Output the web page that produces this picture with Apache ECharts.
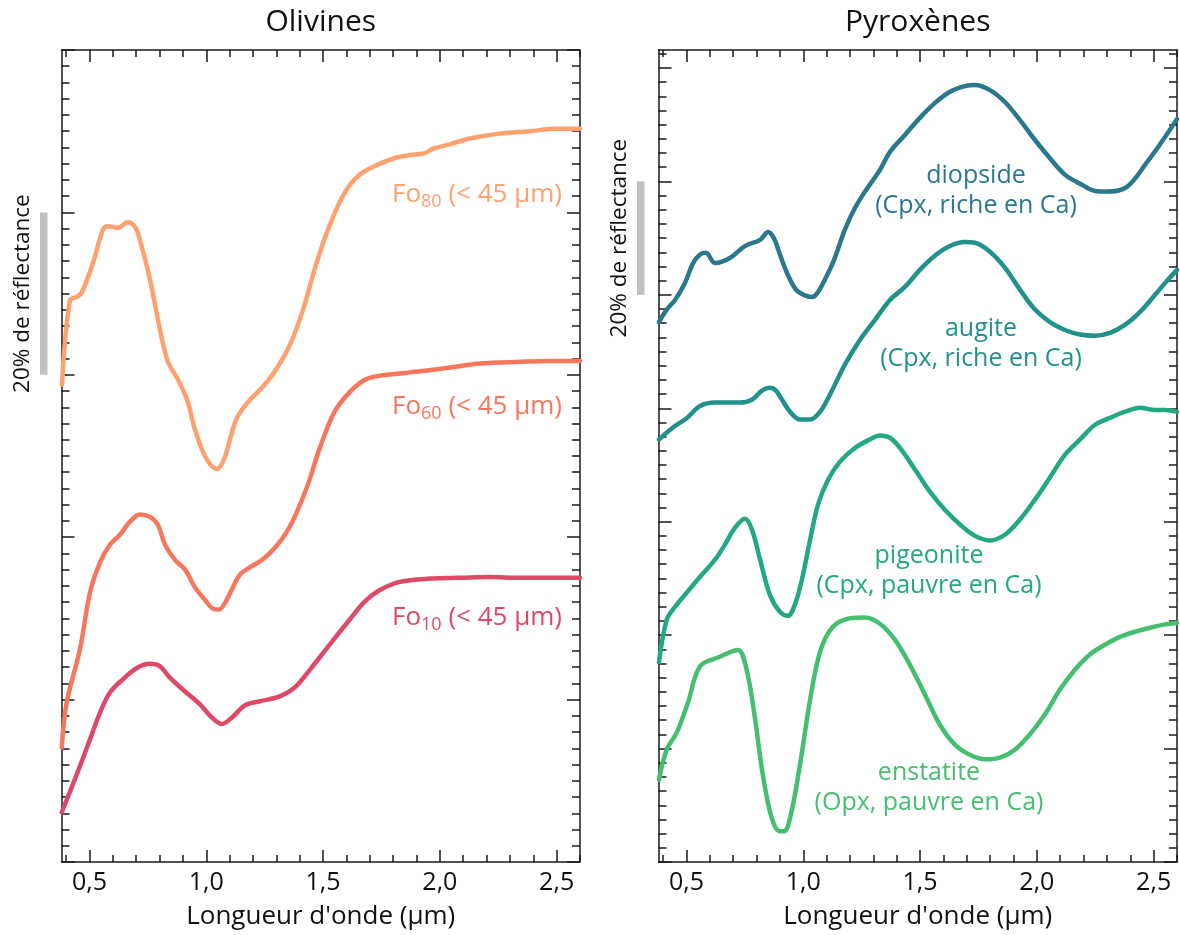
<!DOCTYPE html>
<html><head><meta charset="utf-8">
<script src="https://cdn.jsdelivr.net/npm/echarts@6/dist/echarts.min.js"></script>
<style>html,body{margin:0;padding:0;background:#fff}#c{width:1180px;height:935px}</style>
</head><body><div id="c"></div>
<script>
const FONT = '"Open Sans", "Noto Sans", sans-serif';

// ---------- data (offsets as plotted) ----------
const wlFo80 = [0.382,0.416,0.445,0.466,0.515,0.558,0.579,0.622,0.665,0.695,0.716,0.759,0.802,0.836,0.879,0.918,0.952,0.986,1.016,1.046,1.076,1.101,1.125,1.150,1.186,1.238,1.293,1.358,1.414,1.469,1.529,1.594,1.659,1.736,1.808,1.881,1.937,1.967,2.044,2.129,2.257,2.386,2.493,2.600];
const fo80 = [58.8,69.2,69.6,70.1,73.8,77.9,78.3,78.1,78.8,78.2,76.6,71.7,65.5,61.6,59.4,56.9,53.2,50.5,49.0,48.4,49.6,52.0,54.3,55.6,56.9,58.4,60.4,63.7,68.0,73.5,78.5,82.5,84.7,85.9,86.7,87.1,87.3,87.8,88.4,89.1,89.7,90.0,90.3,90.3];

const wlFo60 = [0.381,0.402,0.459,0.502,0.545,0.588,0.630,0.673,0.716,0.759,0.793,0.823,0.866,0.909,0.952,0.994,1.029,1.055,1.080,1.110,1.144,1.187,1.238,1.294,1.350,1.392,1.435,1.486,1.550,1.615,1.679,1.744,1.808,1.872,1.936,2.043,2.171,2.343,2.471,2.600];
const fo60 = [14.1,19.6,26.2,33.2,36.9,39.1,40.3,41.9,42.8,42.5,41.5,39.1,37.2,36.0,33.8,32.3,31.2,31.1,31.9,33.6,35.4,36.3,37.2,38.7,40.9,43.4,46.5,51.0,55.5,57.9,59.4,59.9,60.1,60.3,60.5,60.9,61.4,61.6,61.7,61.7];

const wlFo10 = [0.381,0.459,0.502,0.545,0.588,0.643,0.703,0.759,0.802,0.844,0.909,0.973,1.024,1.067,1.110,1.166,1.229,1.315,1.379,1.444,1.529,1.615,1.679,1.743,1.829,1.958,2.086,2.214,2.343,2.471,2.600];
const fo10 = [6.1,11.8,15.1,18.4,20.9,22.5,23.9,24.4,24.1,22.7,21.0,19.4,17.8,17.0,17.8,19.3,19.8,20.4,21.5,23.7,26.8,29.9,32.1,33.5,34.5,34.9,35.0,35.1,35.0,35.0,35.0];

const wlDio = [0.382,0.415,0.451,0.493,0.528,0.558,0.583,0.622,0.686,0.750,0.815,0.849,0.874,0.900,0.934,0.969,1.007,1.037,1.060,1.090,1.130,1.178,1.221,1.264,1.328,1.371,1.435,1.499,1.563,1.628,1.692,1.735,1.799,1.863,1.928,1.992,2.056,2.120,2.185,2.249,2.299,2.384,2.470,2.540,2.600];
const diopside = [95.2,97.4,99.1,102.1,105.6,107.1,107.4,105.6,106.5,108.6,109.7,111.1,110.0,107.1,103.5,100.9,99.9,99.6,100.3,102.5,106.0,111.5,115.3,118.2,122.0,125.2,128.2,131.2,133.8,135.8,136.8,137.0,136.1,134.0,130.8,127.3,124.1,121.2,119.6,118.3,118.2,119.0,123.3,127.3,131.0];

const wlAug = [0.382,0.442,0.502,0.558,0.622,0.729,0.780,0.823,0.857,0.883,0.909,0.943,0.986,1.029,1.072,1.114,1.178,1.243,1.307,1.371,1.435,1.499,1.563,1.628,1.692,1.735,1.799,1.863,1.928,1.992,2.056,2.120,2.185,2.249,2.313,2.377,2.442,2.506,2.549,2.600];
const augite = [74.5,76.6,78.3,80.4,81.0,81.0,81.5,83.1,83.6,83.1,81.5,79.4,78.0,78.0,79.4,82.4,87.7,92.1,95.6,99.1,101.4,104.4,106.9,108.6,109.3,109.2,107.6,104.8,100.9,97.4,95.2,93.8,93.0,92.8,93.3,94.7,97.0,100.0,102.1,104.4];

const wlPig = [0.382,0.415,0.451,0.501,0.558,0.622,0.665,0.707,0.750,0.780,0.815,0.857,0.900,0.934,0.964,0.994,1.029,1.063,1.106,1.157,1.221,1.285,1.328,1.371,1.414,1.478,1.542,1.606,1.671,1.735,1.799,1.863,1.928,1.992,2.056,2.120,2.185,2.249,2.313,2.377,2.442,2.506,2.549,2.600];
const pigeonite = [35.2,42.7,45.0,47.5,50.3,53.3,56.0,58.9,60.5,58.6,53.3,47.1,44.1,43.4,45.4,49.8,56.8,63.0,67.4,70.6,73.0,74.5,75.2,74.8,73.0,69.2,65.3,62.1,59.5,57.5,56.7,57.7,60.4,63.9,67.8,71.8,74.5,77.1,78.3,79.4,80.1,79.7,79.7,79.4];

const wlEns = [0.382,0.415,0.458,0.506,0.558,0.643,0.720,0.755,0.789,0.823,0.857,0.887,0.917,0.947,0.986,1.029,1.072,1.123,1.191,1.264,1.328,1.392,1.456,1.521,1.585,1.649,1.713,1.778,1.842,1.906,1.970,2.034,2.099,2.163,2.227,2.291,2.356,2.420,2.484,2.549,2.600];
const enstatite = [14.5,19.8,22.8,28.1,34.5,36.2,37.4,34.3,26.5,16.3,8.9,5.7,5.4,8.4,17.2,28.6,37.1,41.3,42.9,43.1,42.0,39.2,34.8,29.5,24.2,20.7,18.9,18.1,18.4,19.8,22.5,26.0,30.4,33.9,36.6,38.3,39.7,40.6,41.3,41.9,42.2];

// tick labels / scale
const xTickLabels = [0.5, 1.0, 1.5, 2.0, 2.5];
const yMajorLeft = [0, 20, 40, 60, 80, 100];
const yMajorRight = [0, 20, 40, 60, 80, 100, 120, 140];
const scaleBarLeft = [60, 80];   // 20 % de réflectance
const scaleBarRight = [100, 120];
const panelTitles = ['Olivines', 'Pyroxènes'];

// ---------- layout ----------
const X_MIN = 0.38, X_MAX = 2.6;
const Y_MAX_L = 100, Y_MAX_R = 143.17;
const xMinor = []; for (let i = 4; i <= 26; i++) if (i % 5) xMinor.push(i / 10);
const yMinorLeft = []; for (let i = 0; i <= 50; i++) if (i % 10) yMinorLeft.push(i * 2);
const yMinorRight = []; for (let i = 0; i <= 57; i++) if (i % 8) yMinorRight.push(i * 2.5);

const AX = '#1a1a1a';
const lineStyle = { color: AX, width: 1.5 };

function xAxes(gi) {
  const base = { type: 'value', gridIndex: gi, min: X_MIN, max: X_MAX, splitLine: { show: false } };
  return [
    Object.assign({}, base, {
      position: 'bottom',
      axisLine: { show: true, onZero: false, lineStyle },
      axisTick: { show: true, inside: true, length: 12, customValues: xTickLabels, lineStyle },
      axisLabel: { show: true, customValues: xTickLabels, formatter: v => v.toFixed(1).replace('.', ','),
        fontSize: 25, fontFamily: FONT, color: '#111', margin: 8 },
      name: "Longueur d'onde (µm)", nameLocation: 'middle', nameGap: 42,
      nameTextStyle: { fontSize: 26, fontFamily: FONT, color: '#111' }
    }),
    Object.assign({}, base, {
      position: 'bottom',
      axisLine: { show: false, onZero: false },
      axisTick: { show: true, inside: true, length: 7, customValues: xMinor, lineStyle },
      axisLabel: { show: false }
    }),
    Object.assign({}, base, {
      position: 'top',
      axisLine: { show: true, onZero: false, lineStyle },
      axisTick: { show: true, inside: true, length: 12, customValues: xTickLabels, lineStyle },
      axisLabel: { show: false }
    }),
    Object.assign({}, base, {
      position: 'top',
      axisLine: { show: false, onZero: false },
      axisTick: { show: true, inside: true, length: 7, customValues: xMinor, lineStyle },
      axisLabel: { show: false }
    })
  ];
}
function yAxes(gi, max, major, minor) {
  const base = { type: 'value', gridIndex: gi, min: 0, max: max, splitLine: { show: false }, axisLabel: { show: false } };
  const out = [];
  ['left', 'right'].forEach(pos => {
    out.push(Object.assign({}, base, { position: pos,
      axisLine: { show: true, onZero: false, lineStyle },
      axisTick: { show: true, inside: true, length: 13, customValues: major, lineStyle } }));
    out.push(Object.assign({}, base, { position: pos,
      axisLine: { show: false, onZero: false },
      axisTick: { show: true, inside: true, length: 8, customValues: minor, lineStyle } }));
  });
  return out;
}

function zip(xs, ys) { return xs.map((x, i) => [x, ys[i]]); }
function curve(name, xs, ys, color, gi) {
  return { name, type: 'line', xAxisIndex: gi * 4, yAxisIndex: gi * 4, data: zip(xs, ys),
    showSymbol: false, smooth: 0.35, lineStyle: { width: 4.5, color, cap: 'round', join: 'round' },
    itemStyle: { color }, z: 3, silent: true };
}
function scaleBar(gi, range) {
  return { type: 'custom', xAxisIndex: gi * 4, yAxisIndex: gi * 4, clip: false, silent: true, z: 2,
    data: [range],
    renderItem: (params, api) => {
      const lo = api.coord([X_MIN, api.value(0)]);
      const hi = api.coord([X_MIN, api.value(1)]);
      const axisX = lo[0];
      return { type: 'group', children: [
        { type: 'rect', shape: { x: axisX - 21.5, y: hi[1], width: 7.5, height: lo[1] - hi[1] },
          style: { fill: '#c0c0c0' } },
        { type: 'text', x: axisX - 39, y: (lo[1] + hi[1]) / 2, rotation: Math.PI / 2,
          style: { text: '20% de réflectance', fill: '#111', fontSize: 22.5, fontFamily: FONT,
            align: 'center', verticalAlign: 'middle', textAlign: 'center', textVerticalAlign: 'middle' } }
      ] };
    }
  };
}

const C = { fo80: '#FEA16E', fo60: '#F8765C', fo10: '#DE4968',
  dio: '#2A788E', aug: '#21918C', pig: '#22A884', ens: '#44BF70' };

function foLabel(sub, color, x, y) {
  return { type: 'text', x, y, z: 10, style: {
    text: '{a|Fo}{b|' + sub + '}{a| (< 45 µm)}', align: 'right', verticalAlign: 'middle',
    rich: { a: { fontSize: 26, fontFamily: FONT, fill: color, color, lineHeight: 32 },
            b: { fontSize: 18, fontFamily: FONT, fill: color, color, lineHeight: 16, verticalAlign: 'bottom' } } } };
}
function pxLabel(txt, color, x, y) {
  return { type: 'text', x, y, z: 10, style: { text: txt, fill: color, fontSize: 25, fontFamily: FONT,
    align: 'center', verticalAlign: 'middle', lineHeight: 30 } };
}
function titleText(txt, x) {
  return { type: 'text', x, y: 22, style: { text: txt, fill: '#111', fontSize: 30, fontFamily: FONT,
    align: 'center', verticalAlign: 'middle' } };
}

const chart = echarts.init(document.getElementById('c'), null, { renderer: 'canvas' });
chart.setOption({
  animation: false,
  backgroundColor: '#fff',
  grid: [
    { left: 61.5, top: 50, width: 518.5, height: 812.5 },
    { left: 658.5, top: 50, width: 518.5, height: 812.5 }
  ],
  xAxis: [].concat(xAxes(0), xAxes(1)),
  yAxis: [].concat(yAxes(0, Y_MAX_L, yMajorLeft, yMinorLeft), yAxes(1, Y_MAX_R, yMajorRight, yMinorRight)),
  series: [
    curve('Fo80', wlFo80, fo80, C.fo80, 0),
    curve('Fo60', wlFo60, fo60, C.fo60, 0),
    curve('Fo10', wlFo10, fo10, C.fo10, 0),
    curve('diopside', wlDio, diopside, C.dio, 1),
    curve('augite', wlAug, augite, C.aug, 1),
    curve('pigeonite', wlPig, pigeonite, C.pig, 1),
    curve('enstatite', wlEns, enstatite, C.ens, 1),
    scaleBar(0, scaleBarLeft),
    scaleBar(1, scaleBarRight)
  ],
  graphic: [
    titleText(panelTitles[0], 320.75),
    titleText(panelTitles[1], 917.75),
    foLabel('80', C.fo80, 562, 195),
    foLabel('60', C.fo60, 562, 407),
    foLabel('10', C.fo10, 562, 618),
    pxLabel('diopside\n(Cpx, riche en Ca)', C.dio, 976, 191),
    pxLabel('augite\n(Cpx, riche en Ca)', C.aug, 981, 344),
    pxLabel('pigeonite\n(Cpx, pauvre en Ca)', C.pig, 929, 571),
    pxLabel('enstatite\n(Opx, pauvre en Ca)', C.ens, 929, 788)
  ]
});
</script></body></html>
